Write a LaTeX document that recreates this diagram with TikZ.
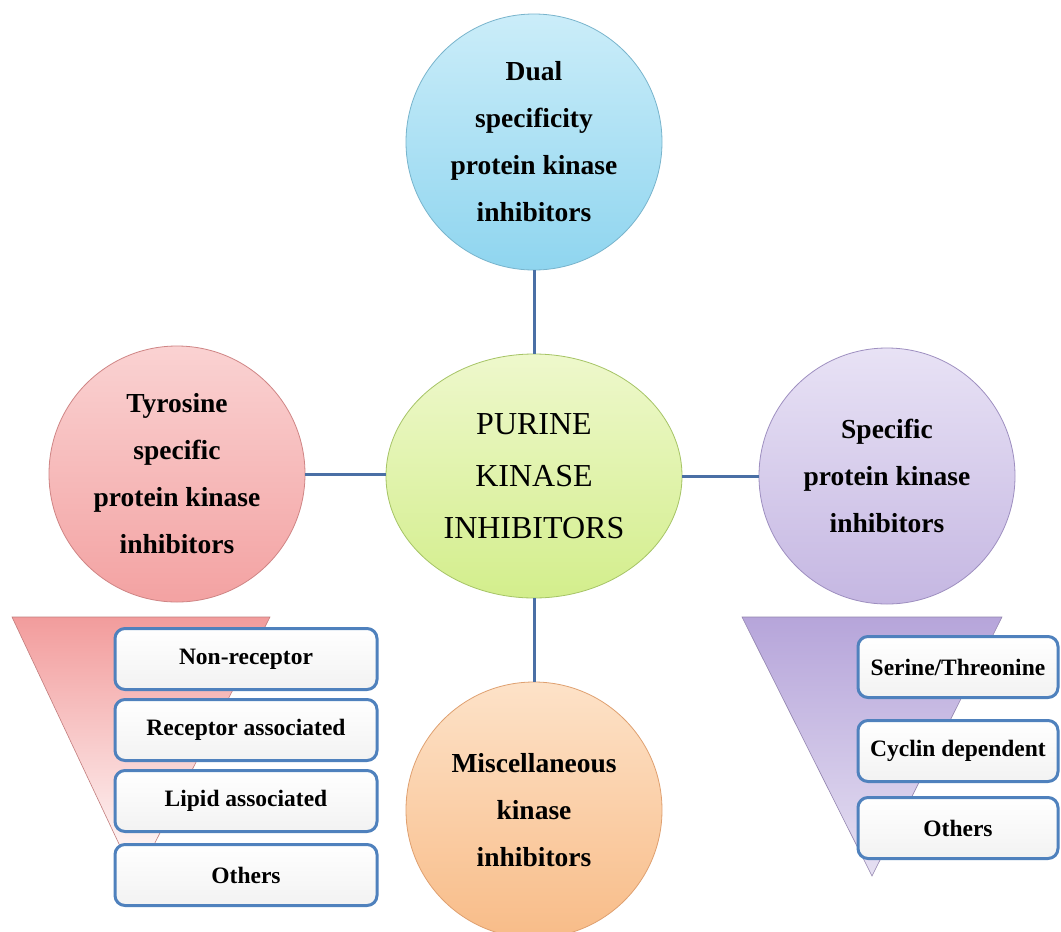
\documentclass[tikz,border=0pt]{standalone}
\usepackage{fontspec}
\setmainfont{Liberation Serif}
\usetikzlibrary{shapes.geometric}
\definecolor{conncol}{HTML}{4A6FA5}
\definecolor{boxline}{HTML}{4F81BD}
\definecolor{blueT}{HTML}{CBEDF9}
\definecolor{blueB}{HTML}{8FD5EF}
\definecolor{blueS}{HTML}{78B4CC}
\definecolor{greenT}{HTML}{EEF8CC}
\definecolor{greenB}{HTML}{D3EE8C}
\definecolor{greenS}{HTML}{A6C466}
\definecolor{redT}{HTML}{FAD2D2}
\definecolor{redB}{HTML}{F3A2A2}
\definecolor{redS}{HTML}{CF8585}
\definecolor{purT}{HTML}{E8E2F5}
\definecolor{purB}{HTML}{C5B7E2}
\definecolor{purS}{HTML}{9E8FC0}
\definecolor{oraT}{HTML}{FDE2C8}
\definecolor{oraB}{HTML}{F8BC88}
\definecolor{oraS}{HTML}{DFA070}
\definecolor{triRed}{HTML}{F29C9C}
\definecolor{triPur}{HTML}{B6A5DA}
\begin{document}
\begin{tikzpicture}[x=1pt,y=-1pt,
  bubble/.style={circle, line width=0.8pt, inner sep=0pt, minimum size=256pt,
    align=center, font=\fontsize{27.5}{47}\selectfont\bfseries},
  conn/.style={draw=conncol, line width=3pt},
  itembox/.style={rectangle, rounded corners=10pt, draw=boxline, line width=3pt,
    top color=white, bottom color=black!5, minimum height=61pt, inner sep=0pt,
    font=\fontsize{23.5}{26}\selectfont\bfseries}
]
\useasboundingbox (0,0) rectangle (1061,932);
\clip (0,0) rectangle (1061,932);
\fill[white] (0,0) rectangle (1061,932);

% funnels
\shade[top color=triRed, bottom color=white, draw=triRed!80!black, line width=0.6pt]
  (12,617) -- (270,617) -- (136,880) -- cycle;
\shade[top color=triPur, bottom color=triPur!35, draw=triPur!80!black, line width=0.6pt]
  (742,617) -- (1002,617) -- (872,876) -- cycle;

% circles
\node[bubble, draw=blueS, top color=blueT, bottom color=blueB] (dual) at (534,142)
  {Dual\\specificity\\protein kinase\\inhibitors};
\node[ellipse, draw=greenS, line width=0.8pt, top color=greenT, bottom color=greenB,
  minimum width=296pt, minimum height=244pt, inner sep=0pt, align=center,
  font=\fontsize{32}{52}\selectfont] (purine) at (534,476)
  {PURINE\\KINASE\\INHIBITORS};
\node[bubble, draw=redS, top color=redT, bottom color=redB] (tyr) at (177,474)
  {Tyrosine\\specific\\protein kinase\\inhibitors};
\node[bubble, draw=purS, top color=purT, bottom color=purB] (spec) at (887,476)
  {Specific\\protein kinase\\inhibitors};
\node[bubble, draw=oraS, top color=oraT, bottom color=oraB] (misc) at (534,810)
  {Miscellaneous\\kinase\\inhibitors};

% connectors
\draw[conn] (dual.south) -- (purine.north);
\draw[conn] (purine.south) -- (misc.north);
\draw[conn] (tyr.east) -- (tyr.east -| purine.west);
\draw[conn] (spec.west) -- (spec.west -| purine.east);

% left boxes
\node[itembox, minimum width=262pt] (nr) at (246,659) {Non-receptor};
\node[itembox, minimum width=262pt] (ra) at (246,730) {Receptor associated};
\node[itembox, minimum width=262pt] (la) at (246,801) {Lipid associated};
\node[itembox, minimum width=262pt] (lo) at (246,875) {Others};

% right boxes
\node[itembox, minimum width=200pt] (st) at (958,667) {Serine/Threonine};
\node[itembox, minimum width=200pt] (cd) at (958,751) {Cyclin dependent};
\node[itembox, minimum width=200pt] (ro) at (958,828) {Others};
\end{tikzpicture}
\end{document}
